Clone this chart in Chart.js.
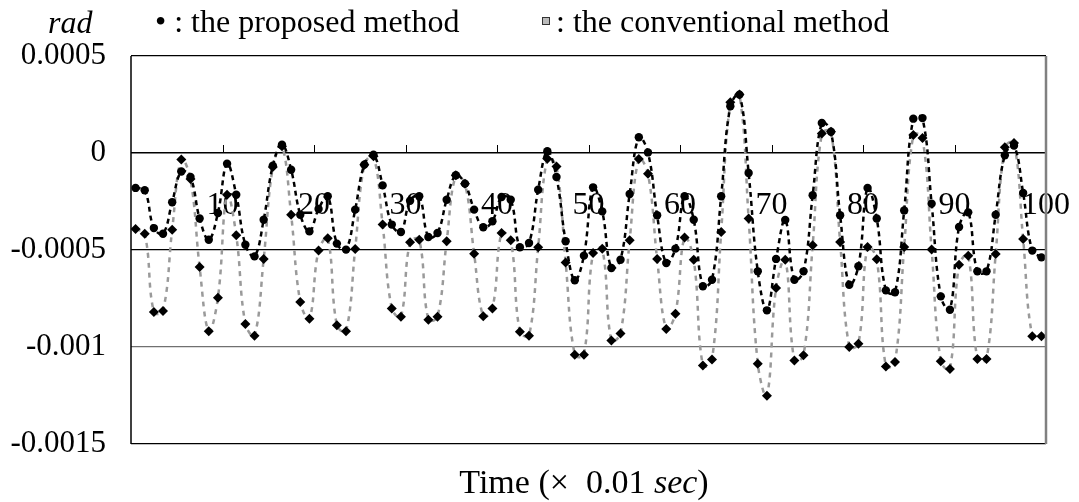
<!DOCTYPE html>
<html>
<head>
<meta charset="utf-8">
<script src="https://cdn.jsdelivr.net/npm/chart.js@4.4.1/dist/chart.umd.min.js"></script>
<style>
  html, body { margin: 0; padding: 0; background: #fff; }
  #wrap { position: relative; width: 1079px; height: 502px; font-family: 'Liberation Serif', 'Times New Roman', serif; color: #000; }
  canvas { position: absolute; left: 0; top: 0; }
  .lbl { position: absolute; font-size: 32px; line-height: 32px; white-space: nowrap; }
  .sq { display: inline-block; width: 6px; height: 6px; border: 1px solid #333; background: #bbb; vertical-align: 0.22em; margin-right: 6px; }
</style>
</head>
<body>
<div id="wrap">
  <canvas id="chart" width="1079" height="502"></canvas>
  <div class="lbl" style="left:48px; top:6px;"><i>rad</i></div>
  <div class="lbl" style="left:155px; top:5px;">•&nbsp;: the proposed method</div>
  <div class="lbl" style="left:542px; top:5px;"><span class="sq"></span>: the conventional method</div>
  <div class="lbl" style="left:584px; top:465px; font-size:34px; line-height:34px; transform:translateX(-50%);">Time (×&nbsp; 0.01 <i>sec</i>)</div>
</div>
<script>
// Time steps (x 0.01 sec)
const timeSteps = Array.from({ length: 100 }, (_, i) => i + 1);

// Angle error, rad
const proposed = [
  -1.80e-4, -1.92e-4, -3.87e-4, -4.16e-4, -2.54e-4, -0.95e-4, -1.24e-4, -3.38e-4, -4.47e-4, -3.09e-4,
  -0.55e-4, -2.15e-4, -4.73e-4, -5.33e-4, -3.44e-4, -0.65e-4,  0.43e-4, -0.86e-4, -3.18e-4, -4.04e-4,
  -2.89e-4, -2.23e-4, -4.67e-4, -4.98e-4, -2.92e-4, -0.60e-4, -0.09e-4, -1.67e-4, -3.69e-4, -4.07e-4,
  -2.46e-4, -2.23e-4, -4.33e-4, -4.12e-4, -2.41e-4, -1.15e-4, -1.58e-4, -2.92e-4, -3.83e-4, -3.52e-4,
  -2.27e-4, -2.41e-4, -4.86e-4, -4.64e-4, -1.89e-4,  0.09e-4, -1.24e-4, -4.55e-4, -6.56e-4, -5.29e-4,
  -1.77e-4, -3.01e-4, -5.93e-4, -5.50e-4, -2.11e-4,  0.81e-4,  0.03e-4, -3.21e-4, -5.67e-4, -4.93e-4,
  -2.23e-4, -3.44e-4, -6.87e-4, -6.53e-4, -2.23e-4,  2.41e-4,  3.01e-4, -1.03e-4, -6.10e-4, -8.11e-4,
  -5.46e-4, -3.45e-4, -6.53e-4, -6.10e-4, -2.18e-4,  1.55e-4,  1.10e-4, -3.21e-4, -6.79e-4, -5.84e-4,
  -1.80e-4, -3.38e-4, -7.08e-4, -7.18e-4, -2.96e-4,  1.77e-4,  1.80e-4, -2.61e-4, -7.39e-4, -8.08e-4,
  -3.81e-4, -3.06e-4, -6.10e-4, -6.10e-4, -3.18e-4, -0.12e-4,  0.38e-4, -2.06e-4, -5.03e-4, -5.38e-4
];
const conventional = [
  -3.92e-4, -4.16e-4, -8.20e-4, -8.14e-4, -3.95e-4, -0.34e-4, -1.34e-4, -5.88e-4, -9.19e-4, -7.46e-4,
  -2.15e-4, -4.24e-4, -8.81e-4, -9.42e-4, -5.46e-4, -0.72e-4,  0.35e-4, -3.18e-4, -7.68e-4, -8.54e-4,
  -5.02e-4, -4.40e-4, -8.88e-4, -9.19e-4, -4.95e-4, -0.60e-4, -0.17e-4, -3.69e-4, -8.01e-4, -8.44e-4,
  -4.60e-4, -4.47e-4, -8.59e-4, -8.44e-4, -4.55e-4, -1.15e-4, -1.58e-4, -5.19e-4, -8.42e-4, -8.01e-4,
  -4.12e-4, -4.50e-4, -9.21e-4, -9.42e-4, -4.86e-4, -0.29e-4, -0.69e-4, -5.64e-4, -10.40e-4, -10.40e-4,
  -5.15e-4, -4.93e-4, -9.66e-4, -9.31e-4, -4.50e-4, -0.31e-4, -1.07e-4, -5.46e-4, -9.07e-4, -8.28e-4,
  -4.36e-4, -5.50e-4, -10.96e-4, -10.65e-4, -4.07e-4, 2.61e-4,  3.01e-4, -3.38e-4, -10.86e-4, -12.51e-4,
  -6.96e-4, -5.50e-4, -10.69e-4, -10.43e-4, -4.76e-4, 1.00e-4,  1.10e-4, -4.59e-4, -10.00e-4, -9.83e-4,
  -4.85e-4, -5.48e-4, -11.00e-4, -10.77e-4, -4.85e-4, 0.93e-4,  0.77e-4, -4.98e-4, -10.74e-4, -11.13e-4,
  -5.76e-4, -5.29e-4, -10.62e-4, -10.62e-4, -5.21e-4, 0.29e-4,  0.52e-4, -4.43e-4, -9.45e-4, -9.45e-4
];

// Axis ticks
const xTickValues = [10, 20, 30, 40, 50, 60, 70, 80, 90, 100];
const yTickValues = [-0.0015, -0.001, -0.0005, 0, 0.0005];
const yTickLabels = ['-0.0015', '-0.001', '-0.0005', '0', '0.0005'];

const FONT = "'Liberation Serif', 'Times New Roman', serif";

// Frame + upward tick marks on the zero line
const framePlugin = {
  id: 'frame',
  beforeDatasetsDraw(chart) {
    const { ctx, scales } = chart;
    const y0 = scales.y.getPixelForValue(0);
    ctx.save();
    ctx.strokeStyle = '#000';
    ctx.lineWidth = 1;
    xTickValues.forEach(v => {
      const px = Math.round(scales.xTicks.getPixelForValue(v)) + 0.5;
      ctx.beginPath();
      ctx.moveTo(px, y0);
      ctx.lineTo(px, y0 - 8);
      ctx.stroke();
    });
    ctx.restore();
  },
  afterDraw(chart) {
    const { ctx, chartArea } = chart;
    ctx.save();
    ctx.strokeStyle = '#000';
    ctx.lineWidth = 1.5;
    ctx.beginPath();
    ctx.moveTo(chartArea.left, chartArea.top);
    ctx.lineTo(chartArea.left, chartArea.bottom);
    ctx.stroke();
    ctx.strokeStyle = '#808080';
    ctx.lineWidth = 2.5;
    ctx.beginPath();
    ctx.moveTo(chartArea.right, chartArea.top);
    ctx.lineTo(chartArea.right, chartArea.bottom);
    ctx.stroke();
    ctx.restore();
  }
};

new Chart(document.getElementById('chart'), {
  type: 'line',
  data: {
    labels: timeSteps,
    datasets: [{
      label: 'the proposed method',
      data: proposed,
      borderColor: '#000',
      borderWidth: 2.5,
      borderDash: [5, 4],
      tension: 0.4,
      pointStyle: 'circle',
      pointRadius: 4.2,
      pointBackgroundColor: '#000',
      pointBorderWidth: 0
    }, {
      label: 'the conventional method',
      data: conventional,
      borderColor: '#9a9a9a',
      borderWidth: 2.5,
      borderDash: [5, 5],
      tension: 0.4,
      pointStyle: 'rectRot',
      pointRadius: 5,
      pointBackgroundColor: '#000',
      pointBorderWidth: 0
    }]
  },
  options: {
    responsive: false,
    animation: false,
    layout: { padding: { top: 56, right: 33, bottom: 58, left: 0 } },
    plugins: { legend: { display: false }, tooltip: { enabled: false } },
    scales: {
      x: { type: 'category', offset: true, display: false },
      xTicks: {
        type: 'linear',
        axis: 'x',
        position: { y: 0 },
        min: 0,
        max: 100,
        afterBuildTicks: s => { s.ticks = xTickValues.map(v => ({ value: v })); },
        afterFit: s => { s.paddingLeft = 0; s.paddingRight = 0; },
        grid: { display: false, drawTicks: false },
        border: { display: false },
        ticks: { color: '#000', font: { family: FONT, size: 32 }, padding: 33, maxRotation: 0, autoSkip: false }
      },
      y: {
        min: -0.0015,
        max: 0.0005,
        afterBuildTicks: s => { s.ticks = yTickValues.map(v => ({ value: v })); },
        afterFit: s => { s.width = 131; },
        border: { display: false },
        grid: {
          drawTicks: false,
          color: c => c.tick.value === -0.001 ? '#707070' : '#000',
          lineWidth: c => c.tick.value === 0 ? 1.5 : 1.2
        },
        ticks: {
          color: '#000',
          font: { family: FONT, size: 31 },
          padding: 25,
          callback: (v, i) => yTickLabels[i]
        }
      }
    }
  },
  plugins: [framePlugin]
});
</script>
</body>
</html>
